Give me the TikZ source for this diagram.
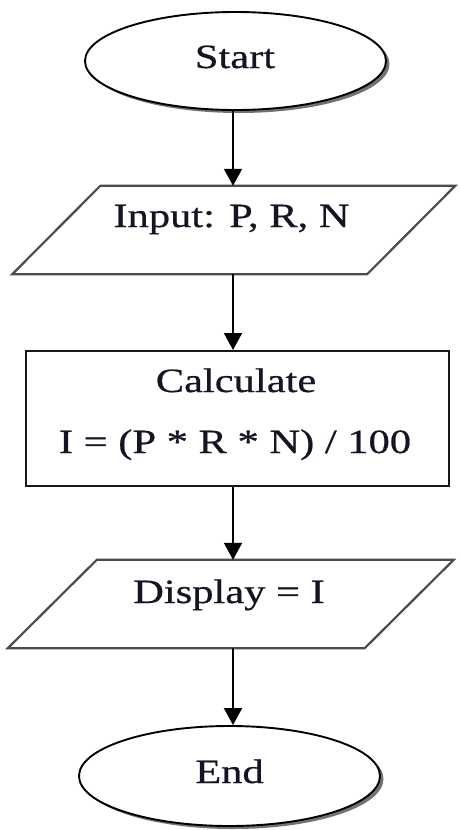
\documentclass[tikz,border=0pt]{standalone}
\usepackage{fontspec}
\setmainfont[FakeStretch=1.25,FakeBold=0.6]{Liberation Serif}
\usetikzlibrary{arrows.meta,shadows,shapes.geometric}
\definecolor{txt}{rgb}{0.08,0.08,0.14}
\begin{document}
\begin{tikzpicture}[x=1pt,y=-1pt,
  term/.style={ellipse, draw=black, line width=1.9pt, fill=white, minimum width=301pt, minimum height=98pt, inner sep=0pt,
    drop shadow={shadow xshift=3.5pt, shadow yshift=-3pt, opacity=0.55, fill=black}},
  iobox/.style={rectangle, draw=none, inner sep=0pt, minimum height=88pt},
  iodraw/.style={draw=black!70, line width=2.2pt, line join=miter, fill=white},
  procbox/.style={rectangle, draw=black!90, line width=2pt, fill=white, inner sep=0pt, minimum width=423pt, minimum height=135pt},
  lbl/.style={anchor=base, font=\fontsize{34}{40}\selectfont, text=txt, inner sep=0pt},
  arr/.style={-{Triangle[width=18pt,length=17pt]}, line width=2pt, draw=black}
]
\useasboundingbox[fill=white] (0,0) rectangle (459,830);
\coordinate (ax) at (233,0);
% shapes
\node[term] (start) at (235.5,61) {};
\node[iobox, minimum width=354.5pt] (in) at (233.75,230) {};
\draw[iodraw] ([xshift=44pt]in.north west) -- ([xshift=44pt]in.north east) -- ([xshift=-44pt]in.south east) -- ([xshift=-44pt]in.south west) -- cycle;
\node[procbox] (calc) at (237.5,418.5) {};
\node[iobox, minimum width=356.5pt] (disp) at (230.75,604) {};
\draw[iodraw] ([xshift=44.5pt]disp.north west) -- ([xshift=44.5pt]disp.north east) -- ([xshift=-44.5pt]disp.south east) -- ([xshift=-44.5pt]disp.south west) -- cycle;
\node[term, minimum height=100pt] (end) at (229.5,776) {};
% texts
\node[lbl] (tstart) at (235,68) {Start};
\node[lbl] (tin) at (231.5,227) {Input: P, R, N};
\node[lbl] (tcalc1) at (236,392) {Calculate};
\node[lbl] (tcalc2) at (235,453) {I = (P * R * N) / 100};
\node[lbl] (tdisp) at (229,603) {Display = I};
\node[lbl] (tend) at (229.5,783) {End};
% connectors
\draw[arr] (start.south -| ax) -- (in.north -| ax);
\draw[arr] (in.south -| ax) -- (calc.north -| ax);
\draw[arr] (calc.south -| ax) -- (disp.north -| ax);
\draw[arr] (disp.south -| ax) -- (end.north -| ax);
\end{tikzpicture}
\end{document}
